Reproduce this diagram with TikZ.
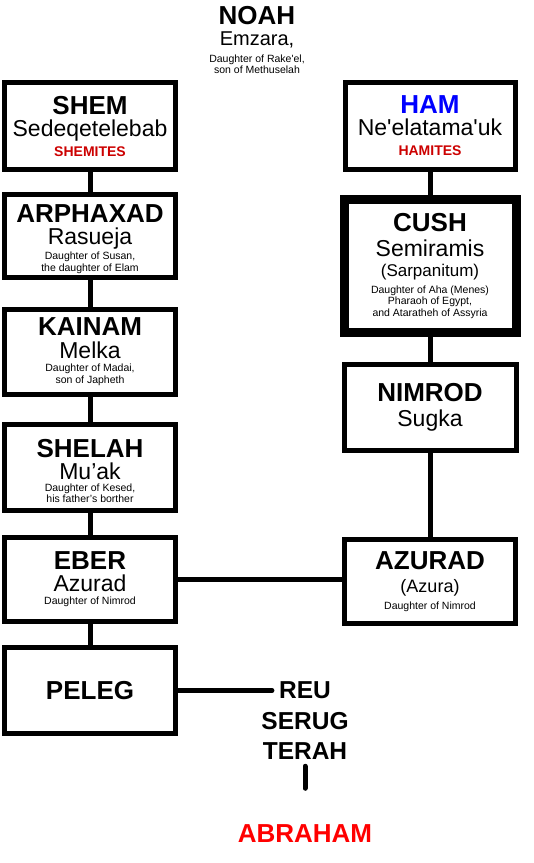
\documentclass[tikz,border=0pt]{standalone}
\usepackage{fontspec}
\setmainfont{Liberation Sans}
\usepackage{xcolor}
\usetikzlibrary{positioning}
\definecolor{hamblue}{HTML}{0000FF}
\definecolor{tribered}{HTML}{CC0000}
\definecolor{abrared}{HTML}{FF0000}
\newcommand{\patr}[1]{{\fontsize{26}{0}\selectfont\bfseries #1}}
\newcommand{\wife}[1]{{\fontsize{23}{0}\selectfont #1}}
\newcommand{\tribe}[1]{{\fontsize{14}{0}\selectfont\bfseries\color{tribered}#1}}
\newcommand{\topstrut}[1]{\rule{0pt}{#1}}
\begin{document}
\begin{tikzpicture}[x=1pt, y=-1pt,
    box/.style={draw, line width=5pt, minimum width=171pt, minimum height=86pt, align=center, inner sep=0pt,
      font={\fontsize{10.5}{0}\selectfont\lineskip=0pt\lineskiplimit=-100pt}},
    link/.style={line width=5pt},
    gen/.style={font=\fontsize{24.5}{0}\selectfont\bfseries, inner sep=2pt}
  ]
  \useasboundingbox (0,0) rectangle (534,863);

  \node[align=center, inner sep=0pt, font={\fontsize{10.5}{0}\selectfont\lineskip=0pt\lineskiplimit=-100pt}] (noah) at (257,40)
    {\patr{NOAH}\\[21pt]{\fontsize{20}{0}\selectfont Emzara,}\\[17pt]Daughter of Rake\textquotesingle el,\\[11pt]son of Methuselah};

  % Shem line
  \node[box, minimum height=87pt] (shem) at (90,126)
    {\patr{SHEM}\\[22pt]\wife{Sedeqetelebab}\\[20pt]\tribe{SHEMITES}};
  \node[box, minimum height=83pt, below=20pt of shem] (arphaxad)
    {\topstrut{25pt}\patr{ARPHAXAD}\\[22pt]\wife{Rasueja}\\[15pt]Daughter of Susan,\\[12pt]the daughter of Elam};
  \node[box, minimum height=85pt, below=27pt of arphaxad] (kainam)
    {\patr{KAINAM}\\[23pt]\wife{Melka}\\[13pt]Daughter of Madai,\\[12pt]son of Japheth};
  \node[box, minimum height=86pt, below=25pt of kainam] (shelah)
    {\topstrut{26pt}\patr{SHELAH}\\[22pt]\wife{Mu’ak}\\[12pt]Daughter of Kesed,\\[11pt]his father’s borther};
  \node[box, minimum height=84pt, below=22pt of shelah] (eber)
    {\patr{EBER}\\[22pt]\wife{Azurad}\\[13pt]Daughter of Nimrod};
  \node[box, minimum height=86pt, below=21pt of eber] (peleg) {\patr{PELEG}};

  % Ham line
  \node[box, minimum width=170pt, minimum height=87pt] (ham) at (430,126)
    {\patr{\color{hamblue}HAM}\\[22pt]\wife{Ne\textquotesingle elatama\textquotesingle uk}\\[20pt]\tribe{HAMITES}};
  \node[box, line width=9pt, minimum width=172pt, minimum height=133pt, below=23pt of ham] (cush)
    {\patr{CUSH}\\[25pt]\wife{Semiramis}\\[20pt]{\fontsize{17}{0}\selectfont (Sarpanitum)}\\[17pt]Daughter of Aha (Menes)\\[11pt]Pharaoh of Egypt,\\[12pt]and Ataratheh of Assyria};
  \node[box, minimum width=172pt, below=25pt of cush] (nimrod)
    {\patr{NIMROD}\\[25pt]\wife{Sugka}};
  \node[box, minimum height=84pt, below=84pt of nimrod] (azurad)
    {\patr{AZURAD}\\[23pt]{\fontsize{18}{0}\selectfont (Azura)}\\[17pt]Daughter of Nimrod};

  % down to Abraham
  \node[gen] (reu) at (305,690) {REU};
  \node[gen, below=9pt of reu] (serug) {SERUG};
  \node[gen, below=9pt of serug] (terah) {TERAH};
  \node[gen, font=\fontsize{26}{0}\selectfont\bfseries, text=abrared, below=61pt of terah] (abraham) {ABRAHAM};

  \draw[link] (shem) -- (arphaxad);
  \draw[link] (arphaxad) -- (kainam);
  \draw[link] (kainam) -- (shelah);
  \draw[link] (shelah) -- (eber);
  \draw[link] (eber) -- (peleg);
  \draw[link] (ham) -- (cush);
  \draw[link] (cush) -- (nimrod);
  \draw[link] (nimrod) -- (azurad);
  \draw[link] (eber) -- (eber -| azurad.west);
  \draw[link, line cap=round] (peleg.east) -- ([xshift=-5pt]peleg.east -| reu.west);
  \draw[link, line cap=round, shorten <=4.5pt, shorten >=34.5pt] (terah) -- (abraham);
\end{tikzpicture}
\end{document}
